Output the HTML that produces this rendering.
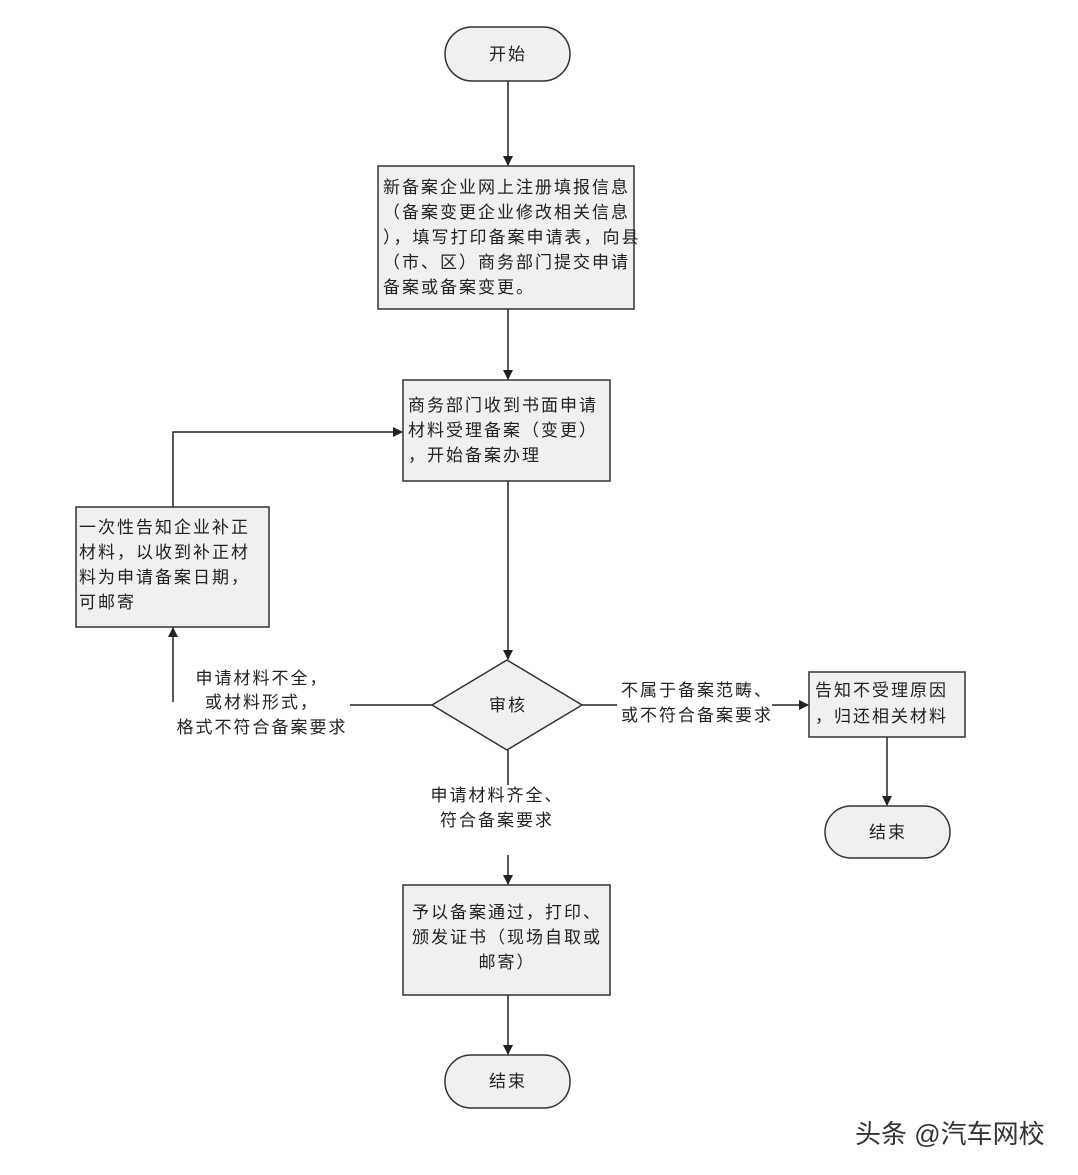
<!DOCTYPE html>
<html><head><meta charset="utf-8"><style>
body{margin:0;background:#fff}
svg text{font-family:"Liberation Sans","Noto Sans CJK SC",sans-serif;fill:#222}
.t text{letter-spacing:2px}
</style></head><body>
<svg width="1078" height="1170" viewBox="0 0 1078 1170" xmlns="http://www.w3.org/2000/svg">
<defs><marker id="a" markerWidth="10" markerHeight="10" refX="9" refY="5" orient="auto" markerUnits="userSpaceOnUse"><path d="M0,0 L10,5 L0,10 Z" fill="#222"/></marker></defs>
<g fill="#f0f0f0" stroke="#333" stroke-width="1.5">
<rect x="445" y="27" width="125" height="54" rx="27"/>
<rect x="378" y="166" width="256" height="143"/>
<rect x="403" y="380" width="207" height="101"/>
<rect x="76" y="507" width="193" height="120"/>
<polygon points="432,705 507,660 582,705 507,750"/>
<rect x="809" y="672" width="156" height="65"/>
<rect x="825" y="806" width="125" height="52" rx="26"/>
<rect x="403" y="885" width="207" height="110"/>
<rect x="445" y="1055" width="125" height="53" rx="26"/>
</g>
<g stroke="#222" stroke-width="1.5" fill="none">
<line x1="508" y1="81" x2="508" y2="165" marker-end="url(#a)"/>
<line x1="508" y1="309" x2="508" y2="379" marker-end="url(#a)"/>
<line x1="508" y1="481" x2="508" y2="659" marker-end="url(#a)"/>
<line x1="432" y1="705" x2="350" y2="705"/>
<line x1="173" y1="702" x2="173" y2="628" marker-end="url(#a)"/>
<polyline points="173,507 173,432 402,432" marker-end="url(#a)"/>
<line x1="582" y1="705" x2="617" y2="705"/>
<line x1="772" y1="705" x2="808" y2="705" marker-end="url(#a)"/>
<line x1="887" y1="737" x2="887" y2="805" marker-end="url(#a)"/>
<line x1="508" y1="750" x2="508" y2="785"/>
<line x1="508" y1="855" x2="508" y2="884" marker-end="url(#a)"/>
<line x1="508" y1="995" x2="508" y2="1054" marker-end="url(#a)"/>
</g>
<g font-size="17" class="t">
<text x="508" y="60" text-anchor="middle">开始</text>
<text x="383" y="193">新备案企业网上注册填报信息</text>
<text x="383" y="218">（备案变更企业修改相关信息</text>
<text x="383" y="243">），填写打印备案申请表，向县</text>
<text x="383" y="268">（市、区）商务部门提交申请</text>
<text x="383" y="293">备案或备案变更。</text>
<text x="408" y="411">商务部门收到书面申请</text>
<text x="408" y="436">材料受理备案（变更）</text>
<text x="408" y="461">，开始备案办理</text>
<text x="79" y="533">一次性告知企业补正</text>
<text x="79" y="558">材料，以收到补正材</text>
<text x="79" y="583">料为申请备案日期，</text>
<text x="79" y="608">可邮寄</text>
<text x="508" y="711" text-anchor="middle">审核</text>
<text x="262" y="684" text-anchor="middle">申请材料不全，</text>
<text x="262" y="708" text-anchor="middle">或材料形式，</text>
<text x="262" y="733" text-anchor="middle">格式不符合备案要求</text>
<text x="697" y="696" text-anchor="middle">不属于备案范畴、</text>
<text x="697" y="721" text-anchor="middle">或不符合备案要求</text>
<text x="815" y="696">告知不受理原因</text>
<text x="815" y="722">，归还相关材料</text>
<text x="888" y="838" text-anchor="middle">结束</text>
<text x="497" y="801" text-anchor="middle">申请材料齐全、</text>
<text x="497" y="826" text-anchor="middle">符合备案要求</text>
<text x="507" y="918" text-anchor="middle">予以备案通过，打印、</text>
<text x="507" y="943" text-anchor="middle">颁发证书（现场自取或</text>
<text x="507" y="968" text-anchor="middle">邮寄）</text>
<text x="508" y="1087" text-anchor="middle">结束</text>
</g>
<text x="855" y="1143" font-size="26" style="fill:#333">头条 @汽车网校</text>
</svg>
</body></html>
